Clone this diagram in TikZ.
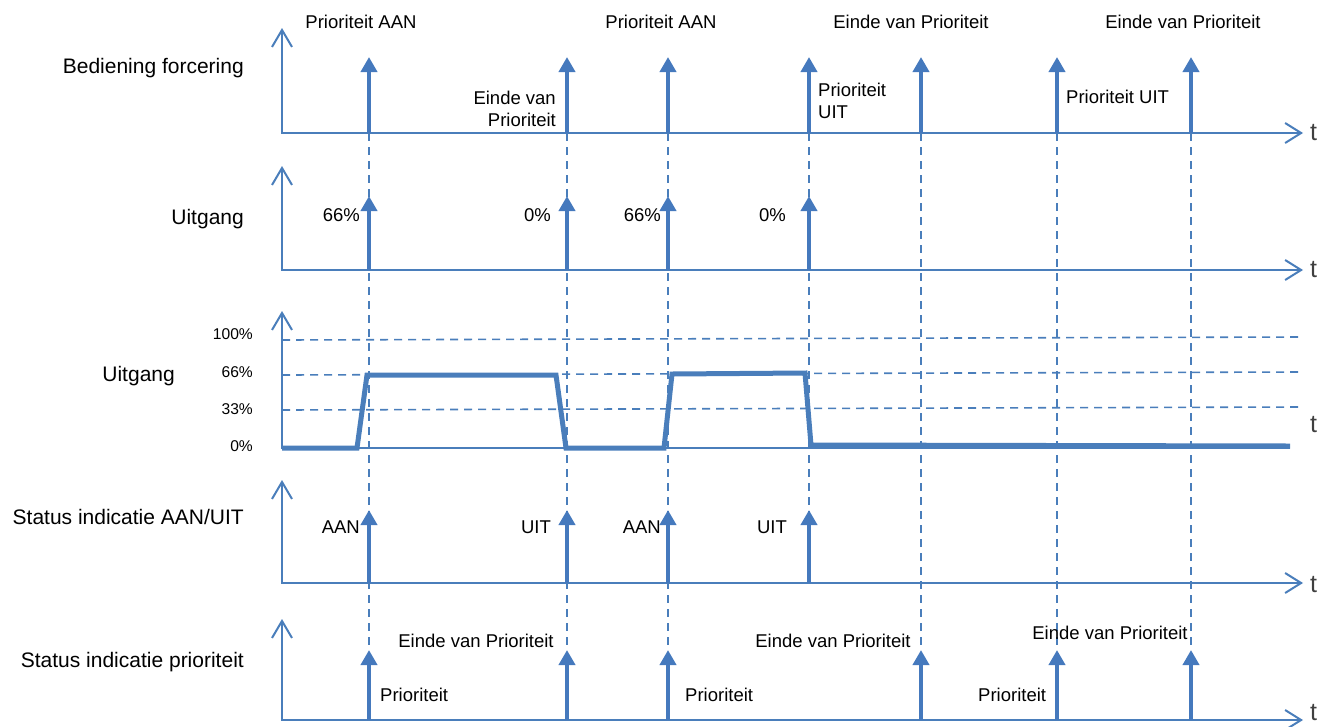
\documentclass[tikz,border=0pt]{standalone}
\usepackage{fontspec}
\setmainfont{Liberation Sans}
\usetikzlibrary{arrows.meta}
\definecolor{axisblue}{HTML}{4A7EBB}
\definecolor{pulseblue}{HTML}{4579BD}
\definecolor{tgray}{HTML}{404040}

\begin{document}
\begin{tikzpicture}[x=1pt,y=-1pt,
  axis/.style={draw=axisblue, line width=2pt, line join=miter,
    {Straight Barb[length=17pt,width=20pt]}-{Straight Barb[length=16pt,width=20pt]}},
  pulse/.style={draw=pulseblue, line width=4pt, -{Triangle[length=15pt,width=16pt]}},
  guide/.style={draw=axisblue, line width=2pt, dash pattern=on 8pt off 6pt},
  level/.style={draw=axisblue, line width=1.6pt, dash pattern=on 8pt off 6pt},
  signal/.style={draw=axisblue, line width=5pt, line join=miter},
  rowlabel/.style={inner sep=0pt, anchor=east, font=\fontsize{21}{25}\selectfont},
  evlabel/.style={inner sep=0pt, font=\fontsize{18.5}{22}\selectfont},
  pctlabel/.style={inner sep=0pt, anchor=east, font=\fontsize{15.6}{19}\selectfont},
  tlabel/.style={inner sep=0pt, anchor=west, text=tgray, font=\fontsize{25}{28}\selectfont}
]
\useasboundingbox (0,0) rectangle (1324,726);

% event instants
\coordinate (e1) at (369,0);
\coordinate (e2) at (567,0);
\coordinate (e3) at (668,0);
\coordinate (e4) at (809,0);
\coordinate (e5) at (921,0);
\coordinate (e6) at (1057,0);
\coordinate (e7) at (1191,0);

% origins of the five time axes
\coordinate (o1) at (282,133);
\coordinate (o2) at (282,270);
\coordinate (o3) at (282,448);
\coordinate (o4) at (282,583);
\coordinate (o5) at (282,720);

% vertical guide lines through the events
\foreach \e in {e1,e2,e3,e5,e6,e7}
  \draw[guide] (\e |- o1) -- (\e |- 0,650);
\draw[guide] (e4 |- o1) -- (e4 |- 0,512);

% axes
\draw[axis] (282,28) -- (o1) -- (1303,133);
\draw[axis] (282,166) -- (o2) -- (1303,270);
\draw[axis] (282,480) -- (o4) -- (1303,583);
\draw[axis] (282,619) -- (o5) -- (1303,720);
\draw[draw=axisblue, line width=2pt, {Straight Barb[length=17pt,width=20pt]}-] (282,311) -- (o3) -- (1290,448);

% levels of the output
\draw[level] (282,340) -- (1300,337);
\draw[level] (282,375) -- (1300,372);
\draw[level] (282,410) -- (1300,407);

% output signal
\draw[signal] (o3) -- (357,448) -- (367,375) -- (556,375) -- (566,448)
  -- (664,448) -- (672,374) -- (805,373) -- (811,445) -- (1290,446);

% pulses: control
\foreach \e in {e1,e2,e3,e4,e5,e6,e7}
  \draw[pulse] (\e |- o1) -- (\e |- 0,57);
% pulses: output
\foreach \e in {e1,e2,e3,e4}
  \draw[pulse] (\e |- o2) -- (\e |- 0,196);
% pulses: status on/off
\foreach \e in {e1,e2,e3,e4}
  \draw[pulse] (\e |- o4) -- (\e |- 0,510);
% pulses: status priority
\foreach \e in {e1,e2,e3,e5,e6,e7}
  \draw[pulse] (\e |- o5) -- (\e |- 0,650);

% row labels
\node[rowlabel] (r1) at (244,68) {Bediening forcering};
\node[rowlabel] (r2) at (244,219) {Uitgang};
\node[rowlabel] (r3) at (175,376) {Uitgang};
\node[rowlabel] (r4) at (244,517) {Status indicatie AAN/UIT};
\node[rowlabel] (r5) at (244,662) {Status indicatie prioriteit};

% time labels
\node[tlabel] (t1) at (1310,133) {t};
\node[tlabel] (t2) at (1310,270) {t};
\node[tlabel] (t3) at (1310,425) {t};
\node[tlabel] (t4) at (1310,585) {t};
\node[tlabel] (t5) at (1310,713) {t};

% control labels
\node[evlabel] (c1) at (361,22) {Prioriteit AAN};
\node[evlabel] (c3) at (661,22) {Prioriteit AAN};
\node[evlabel] (c5) at (911,22) {Einde van Prioriteit};
\node[evlabel] (c7) at (1183,22) {Einde van Prioriteit};
\node[evlabel, anchor=east, align=right] (c2) at (556,109) {Einde van\\Prioriteit};
\node[evlabel, anchor=west, align=left] (c4) at (818,101) {Prioriteit\\UIT};
\node[evlabel, anchor=west] (c6) at (1066,97) {Prioriteit UIT};

% output labels
\node[evlabel, anchor=east] (u1) at (360,215) {66\%};
\node[evlabel, anchor=east] (u2) at (551,215) {0\%};
\node[evlabel, anchor=east] (u3) at (661,215) {66\%};
\node[evlabel, anchor=east] (u4) at (786,215) {0\%};

% level labels
\node[pctlabel] (p100) at (253,334) {100\%};
\node[pctlabel] (p66) at (253,372) {66\%};
\node[pctlabel] (p33) at (253,409) {33\%};
\node[pctlabel] (p0) at (253,446) {0\%};

% status on/off labels
\node[evlabel, anchor=east] (s1) at (360,527) {AAN};
\node[evlabel, anchor=east] (s2) at (551,527) {UIT};
\node[evlabel, anchor=east] (s3) at (661,527) {AAN};
\node[evlabel, anchor=east] (s4) at (787,527) {UIT};

% status priority labels
\node[evlabel, anchor=west] (q1) at (380,695) {Prioriteit};
\node[evlabel] (q2) at (476,641) {Einde van Prioriteit};
\node[evlabel, anchor=west] (q3) at (685,695) {Prioriteit};
\node[evlabel] (q4) at (833,641) {Einde van Prioriteit};
\node[evlabel, anchor=west] (q5) at (978,695) {Prioriteit};
\node[evlabel] (q6) at (1110,633) {Einde van Prioriteit};
\end{tikzpicture}
\end{document}
